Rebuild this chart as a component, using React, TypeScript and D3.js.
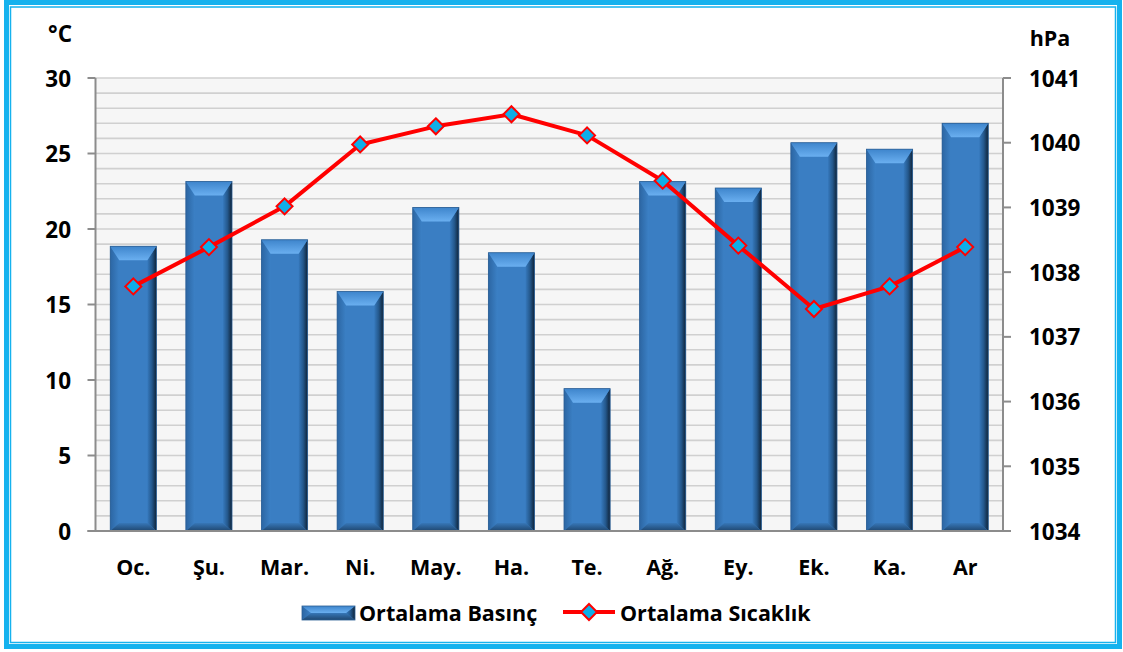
import React from 'react';
import * as d3 from 'd3';

const categories = ['Oc.', 'Şu.', 'Mar.', 'Ni.', 'May.', 'Ha.', 'Te.', 'Ağ.', 'Ey.', 'Ek.', 'Ka.', 'Ar'];
const pressure = [1038.4, 1039.4, 1038.5, 1037.7, 1039.0, 1038.3, 1036.2, 1039.4, 1039.3, 1040.0, 1039.9, 1040.3];
const temperature = [16.2, 18.8, 21.5, 25.6, 26.8, 27.6, 26.2, 23.2, 18.9, 14.7, 16.2, 18.8];
const tempTicks = [0, 5, 10, 15, 20, 25, 30];
const tempGrid = d3.range(0, 31, 1);
const pressureTicks = [1034, 1035, 1036, 1037, 1038, 1039, 1040, 1041];
const pressureLabel = 'Ortalama Basınç';
const tempLabel = 'Ortalama Sıcaklık';

const W = 1123;
const H = 652;
const L = 95.5;
const R = 1003;
const T = 78;
const B = 531;
const FONT = '"Open Sans", Lato, sans-serif';
const FS = 21.5;
const FN = 22.5;

function Bar({ x0, x1, y0, y1 }: { x0: number; x1: number; y0: number; y1: number }) {
  const bt = Math.min(14, (y1 - y0) / 2);
  const bb = Math.min(8, (y1 - y0) / 2);
  const bs = 9;
  return (
    <g>
      <rect x={x0} y={y0} width={x1 - x0} height={y1 - y0} fill="#3a7ec3" />
      <polygon
        points={`${x0},${y0} ${x0 + bs},${y0 + bt} ${x0 + bs},${y1 - bb} ${x0},${y1}`}
        fill="url(#gLeft)"
      />
      <polygon
        points={`${x1},${y0} ${x1 - bs},${y0 + bt} ${x1 - bs},${y1 - bb} ${x1},${y1}`}
        fill="url(#gRight)"
      />
      <polygon
        points={`${x0},${y0} ${x1},${y0} ${x1 - bs},${y0 + bt} ${x0 + bs},${y0 + bt}`}
        fill="url(#gTop)"
      />
      <polygon
        points={`${x0},${y1} ${x1},${y1} ${x1 - bs},${y1 - bb} ${x0 + bs},${y1 - bb}`}
        fill="url(#gBottom)"
      />
      <rect x={x0} y={y0} width={x1 - x0} height={y1 - y0} fill="none" stroke="#2c5f94" strokeWidth={0.8} />
    </g>
  );
}

function Diamond({ cx, cy, r }: { cx: number; cy: number; r: number }) {
  return (
    <polygon
      points={`${cx},${cy - r} ${cx + r},${cy} ${cx},${cy + r} ${cx - r},${cy}`}
      fill="#0eaee8"
      stroke="#ff0000"
      strokeWidth={2}
    />
  );
}

export default function App() {
  const x = d3.scaleBand<string>().domain(categories).range([L, R]).paddingInner(0.39).paddingOuter(0.195);
  const yT = d3.scaleLinear().domain([0, 30]).range([B, T]);
  const yP = d3.scaleLinear().domain([1034, 1041]).range([B, T]);
  const line = d3
    .line<number>()
    .x((_, i) => (x(categories[i]) as number) + x.bandwidth() / 2)
    .y((d) => yT(d));

  return (
    <svg
      width={W}
      height={H}
      style={{ position: 'absolute', left: 0, top: 0, background: '#fff' }}
      fontFamily={FONT}
      fontWeight="bold"
    >
      <defs>
        <linearGradient id="gLeft" x1="0" y1="0" x2="1" y2="0">
          <stop offset="0" stopColor="#2c66a3" />
          <stop offset="1" stopColor="#3b80c5" />
        </linearGradient>
        <linearGradient id="gRight" x1="0" y1="0" x2="1" y2="0">
          <stop offset="0" stopColor="#3679bd" />
          <stop offset="0.5" stopColor="#24588c" />
          <stop offset="1" stopColor="#0f2338" />
        </linearGradient>
        <linearGradient id="gTop" x1="0" y1="0" x2="0" y2="1">
          <stop offset="0" stopColor="#3e85cc" />
          <stop offset="1" stopColor="#6aaff0" />
        </linearGradient>
        <linearGradient id="gBottom" x1="0" y1="0" x2="0" y2="1">
          <stop offset="0" stopColor="#3777b8" />
          <stop offset="1" stopColor="#1f4770" />
        </linearGradient>
      </defs>

      {/* frame */}
      <rect x={6.5} y={2.5} width={1113} height={644} fill="#fff" stroke="#15b2ee" strokeWidth={5} />
      <rect x={10.5} y={7} width={1105} height={635.5} fill="none" stroke="#15b2ee" strokeWidth={1.5} />

      {/* plot area */}
      <rect x={L} y={T} width={R - L} height={B - T} fill="#f6f6f6" />
      {tempGrid.map((v) => (
        <line key={v} x1={L} x2={R} y1={yT(v)} y2={yT(v)} stroke="#d0d0d0" strokeWidth={1.6} />
      ))}

      {/* axes */}
      <line x1={L} x2={L} y1={T} y2={B} stroke="#8c8c8c" strokeWidth={2} />
      <line x1={R} x2={R} y1={T} y2={B} stroke="#8c8c8c" strokeWidth={2} />
      {tempTicks.map((v) => (
        <g key={v}>
          <line x1={L - 8} x2={L} y1={yT(v)} y2={yT(v)} stroke="#8c8c8c" strokeWidth={2} />
          <text x={71} y={yT(v)} textAnchor="end" dominantBaseline="central" fontSize={FN} fill="#000">
            {v}
          </text>
        </g>
      ))}
      {pressureTicks.map((v) => (
        <g key={v}>
          <line x1={R} x2={R + 8} y1={yP(v)} y2={yP(v)} stroke="#8c8c8c" strokeWidth={2} />
          <text x={1029} y={yP(v)} textAnchor="start" dominantBaseline="central" fontSize={FN} fill="#000">
            {v}
          </text>
        </g>
      ))}

      {/* bars */}
      {pressure.map((v, i) => {
        const x0 = x(categories[i]) as number;
        return <Bar key={i} x0={x0} x1={x0 + x.bandwidth()} y0={yP(v)} y1={yP(1034)} />;
      })}

      <line x1={L - 8} x2={R} y1={B} y2={B} stroke="#8c8c8c" strokeWidth={2} />

      {/* line */}
      <path d={line(temperature) as string} fill="none" stroke="#ff0000" strokeWidth={4} strokeLinejoin="round" />
      {temperature.map((v, i) => (
        <Diamond key={i} cx={(x(categories[i]) as number) + x.bandwidth() / 2} cy={yT(v)} r={8} />
      ))}

      {/* category labels */}
      {categories.map((c) => (
        <text
          key={c}
          x={(x(c) as number) + x.bandwidth() / 2}
          y={566}
          textAnchor="middle"
          dominantBaseline="central"
          fontSize={FS}
          fill="#000"
        >
          {c}
        </text>
      ))}

      {/* axis titles */}
      <text x={60} y={33} textAnchor="middle" dominantBaseline="central" fontSize={FN} fill="#000">
        °C
      </text>
      <text x={1050} y={37} textAnchor="middle" dominantBaseline="central" fontSize={FS} fill="#000">
        hPa
      </text>

      {/* legend */}
      <g>
        <Bar x0={302} x1={355} y0={606} y1={620} />
        <text x={359} y={612} dominantBaseline="central" fontSize={FS} fill="#000">
          {pressureLabel}
        </text>
        <line x1={563} x2={615} y1={612} y2={612} stroke="#ff0000" strokeWidth={4} />
        <Diamond cx={589} cy={612} r={8} />
        <text x={620} y={612} dominantBaseline="central" fontSize={FS} fill="#000">
          {tempLabel}
        </text>
      </g>
    </svg>
  );
}
